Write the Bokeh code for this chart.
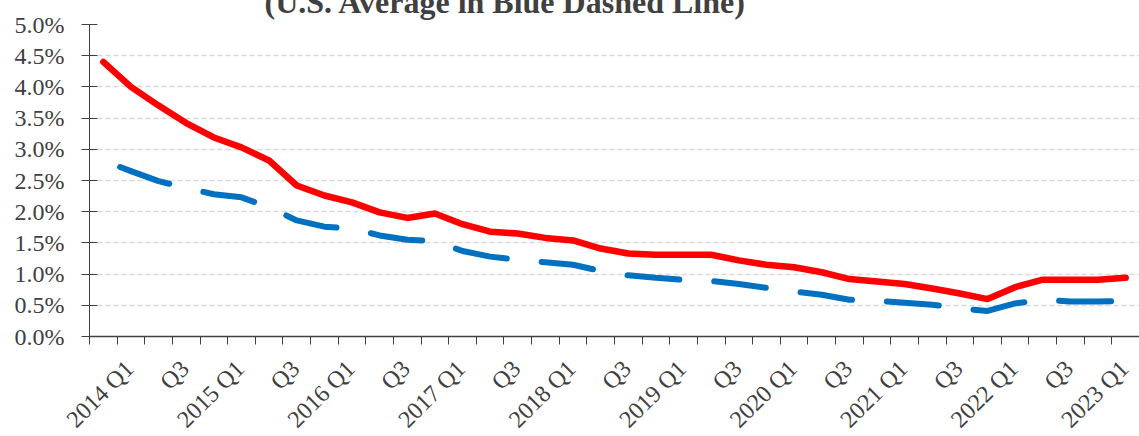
import math
from bokeh.plotting import figure
from bokeh.models import Range1d, FixedTicker, PrintfTickFormatter
from bokeh.embed import file_html
from bokeh.resources import INLINE

# ---------------- data ----------------
quarters = [
    "2014 Q1", "Q2", "Q3", "Q4",
    "2015 Q1", "Q2", "Q3", "Q4",
    "2016 Q1", "Q2", "Q3", "Q4",
    "2017 Q1", "Q2", "Q3", "Q4",
    "2018 Q1", "Q2", "Q3", "Q4",
    "2019 Q1", "Q2", "Q3", "Q4",
    "2020 Q1", "Q2", "Q3", "Q4",
    "2021 Q1", "Q2", "Q3", "Q4",
    "2022 Q1", "Q2", "Q3", "Q4",
    "2023 Q1", "Q2",
]

state_rate = [
    4.40, 4.00, 3.70, 3.42, 3.19, 3.03, 2.82, 2.42, 2.26, 2.15,
    1.99, 1.90, 1.97, 1.80, 1.68, 1.65, 1.58, 1.54, 1.41, 1.33,
    1.31, 1.31, 1.31, 1.22, 1.15, 1.11, 1.03, 0.92, 0.88, 0.84,
    0.77, 0.69, 0.60, 0.79, 0.91, 0.91, 0.91, 0.94,
]

us_average = [
    2.82, 2.65, 2.49, 2.38, 2.28, 2.23, 2.07, 1.86, 1.76, 1.73,
    1.62, 1.55, 1.53, 1.37, 1.28, 1.23, 1.19, 1.15, 1.05, 0.98,
    0.94, 0.91, 0.89, 0.84, 0.78, 0.72, 0.67, 0.59, 0.57, 0.54,
    0.51, 0.45, 0.41, 0.53, 0.59, 0.56, 0.56, 0.57,
]

y_ticks = [0.0, 0.5, 1.0, 1.5, 2.0, 2.5, 3.0, 3.5, 4.0, 4.5, 5.0]
title_text = "(U.S. Average in Blue Dashed Line)"

# ---------------- styling ----------------
FONT = "Liberation Serif"
TEXT_COLOR = "#404040"
AXIS_COLOR = "#404040"
LABEL_SHIFT = 0.95   # rotated label anchor offset (in categories)
TOP_BORDER = 60

n = len(quarters)
x = list(range(n))

p = figure(
    frame_width=1050, frame_height=312,
    x_range=Range1d(-0.5, n - 0.5), y_range=Range1d(0, 5),
    output_backend="svg", toolbar_location=None,
    min_border_left=89, min_border_right=0, min_border_top=TOP_BORDER,
    min_border_bottom=0,
    background_fill_color="white", border_fill_color="white",
)
# the reference picture is cropped through its title: pull the canvas up
p.styles = {"margin-top": f"-{TOP_BORDER - 24}px", "margin-bottom": "-40px"}
p.outline_line_color = None

# title (cut at the top edge, as in the reference)
p.title.text = title_text
p.title.text_font = FONT
p.title.text_font_style = "bold"
p.title.text_font_size = "32px"
p.title.text_color = TEXT_COLOR
p.title.align = "left"
p.title.offset = 175
p.title.standoff = 10

# x axis: ticks between categories, labels every other quarter
label_ticks = [k + LABEL_SHIFT for k in range(0, n, 2)]
overrides = {t: quarters[k] for t, k in zip(label_ticks, range(0, n, 2))}
p.xaxis.ticker = FixedTicker(ticks=label_ticks,
                             minor_ticks=[k - 0.5 for k in range(n + 1)])
p.xaxis.major_label_overrides = overrides
p.xaxis.major_label_orientation = math.pi / 4
p.xaxis.major_tick_out = 0
p.xaxis.major_tick_in = 0
p.xaxis.minor_tick_out = 8
p.xaxis.minor_tick_in = 0
p.xaxis.major_label_standoff = 20
p.xaxis.axis_line_color = AXIS_COLOR
p.xaxis.axis_line_width = 1.3
p.xaxis.minor_tick_line_color = AXIS_COLOR
p.xaxis.minor_tick_line_width = 1
p.xaxis.major_label_text_font = FONT
p.xaxis.major_label_text_font_size = "24px"
p.xaxis.major_label_text_color = TEXT_COLOR

# y axis
p.yaxis.ticker = FixedTicker(ticks=y_ticks)
p.yaxis.formatter = PrintfTickFormatter(format="%.1f%%")
p.yaxis.major_tick_in = 8
p.yaxis.major_tick_out = 8
p.yaxis.minor_tick_in = 0
p.yaxis.minor_tick_out = 0
p.yaxis.major_label_standoff = 17
p.yaxis.axis_line_color = AXIS_COLOR
p.yaxis.major_tick_line_color = AXIS_COLOR
p.yaxis.major_label_text_font = FONT
p.yaxis.major_label_text_font_size = "24px"
p.yaxis.major_label_text_color = TEXT_COLOR

# grid
p.xgrid.visible = False
p.ygrid.grid_line_color = "#d9d9d9"
p.ygrid.grid_line_width = 1.5
p.ygrid.grid_line_dash = "5 3"

# series
p.line(x, state_rate, line_color="#ff0000", line_width=6.5,
       line_join="round", line_cap="round")
p.line(x, us_average, line_color="#0070c0", line_width=6,
       line_dash="52 35", line_dash_offset=69,
       line_join="round", line_cap="round")

open("out.html", "w").write(file_html(p, INLINE))
